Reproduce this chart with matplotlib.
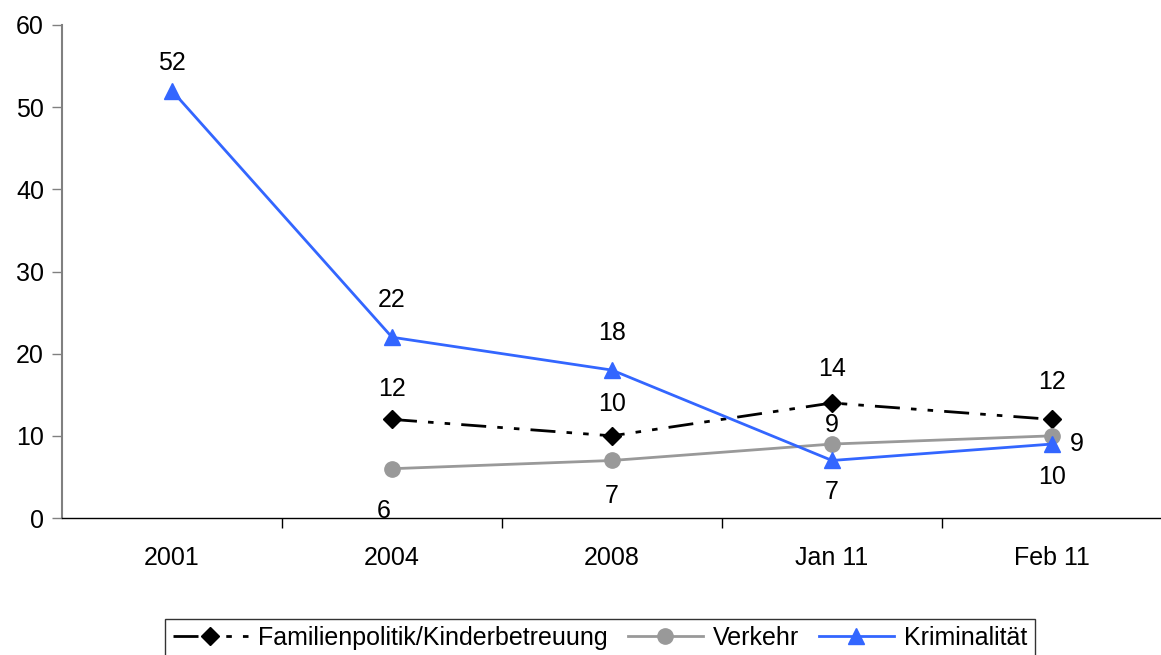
import matplotlib.pyplot as plt

plt.rcParams['font.family'] = ['Liberation Sans', 'DejaVu Sans']

categories = ['2001', '2004', '2008', 'Jan 11', 'Feb 11']

familie = [None, 12, 10, 14, 12]
verkehr = [None, 6, 7, 9, 10]
krimi = [52, 22, 18, 7, 9]

# labels as printed on the original chart
familie_labels = ['', '12', '10', '14', '12']
verkehr_labels = ['', '6', '7', '9', '9']
krimi_labels = ['52', '22', '18', '7', '10']

# label offsets in pixels (dx, dy)
familie_off = [None, (0, 30), (0, 32), (0, 34), (0, 37)]
verkehr_off = [None, (-8, -42), (0, -36), (0, 19), (25, -8)]
krimi_off = [(0, 28), (0, 37), (0, 37), (0, -32), (0, -33)]

BLACK = '#000000'
GREY = '#999999'
BLUE = '#3366FF'
FS = 18


def xy(values):
    xs = [i for i, v in enumerate(values) if v is not None]
    ys = [v for v in values if v is not None]
    return xs, ys


def add_labels(ax, values, labels, offsets):
    for i, (v, lab, off) in enumerate(zip(values, labels, offsets)):
        if v is None or not lab:
            continue
        ax.annotate(lab, (i, v), xytext=off, textcoords='offset pixels',
                    ha='center', va='center', fontsize=FS)


fig = plt.figure(figsize=(11.61, 6.55), dpi=100)
ax = fig.add_axes([62 / 1161, 1 - 518 / 655, 1100 / 1161, (518 - 25) / 655])

x, y = xy(familie)
ax.plot(x, y, color=BLACK, lw=2, dashes=(9, 4, 2, 4, 2, 4), marker='D',
        markersize=9, label='Familienpolitik/Kinderbetreuung')
x, y = xy(verkehr)
ax.plot(x, y, color=GREY, lw=2, marker='o', markersize=11, label='Verkehr')
x, y = xy(krimi)
ax.plot(x, y, color=BLUE, lw=2, marker='^', markersize=11, label='Kriminalität')

add_labels(ax, familie, familie_labels, familie_off)
add_labels(ax, verkehr, verkehr_labels, verkehr_off)
add_labels(ax, krimi, krimi_labels, krimi_off)

ax.set_xlim(-0.5, 4.5)
ax.set_ylim(0, 60)
ax.set_yticks(range(0, 61, 10))
ax.set_xticks(range(len(categories)))
ax.set_xticklabels(categories)
ax.set_xticks([0.5, 1.5, 2.5, 3.5], minor=True)
ax.tick_params(axis='x', which='major', length=0, pad=20, labelsize=FS)
ax.tick_params(axis='x', which='minor', length=7, width=1, color=BLACK)
ax.tick_params(axis='y', length=7, width=1, color='#808080', labelsize=FS, pad=6)

for side in ['top', 'right']:
    ax.spines[side].set_visible(False)
ax.spines['left'].set_color('#808080')
ax.spines['left'].set_linewidth(1.5)
ax.spines['bottom'].set_color(BLACK)
ax.spines['bottom'].set_linewidth(1)

leg = fig.legend(loc='center', bbox_to_anchor=(600 / 1161, 1 - 638 / 655), ncol=3,
                 frameon=True, fancybox=False, fontsize=FS, handlelength=3,
                 columnspacing=0.8, handletextpad=0.4, borderpad=0.3)
leg.get_frame().set_edgecolor(BLACK)
leg.get_frame().set_linewidth(1)

fig.savefig('out.png', dpi=100)
